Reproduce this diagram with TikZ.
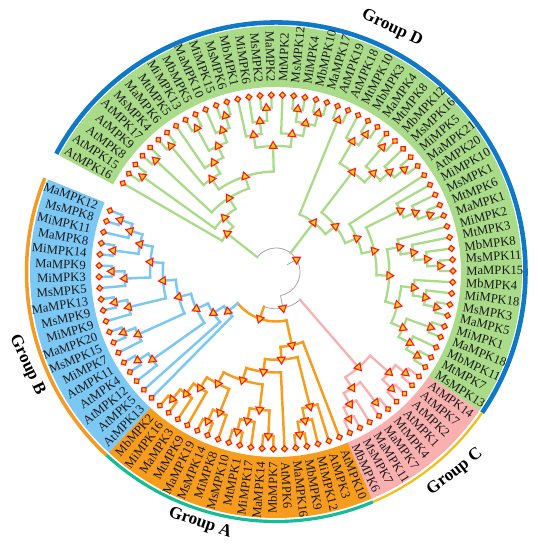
\documentclass[tikz,border=0pt]{standalone}
\usepackage{fontspec}
\setmainfont{Liberation Serif}
\usetikzlibrary{shapes.geometric,backgrounds}

\definecolor{cladeD}{HTML}{A9DB88}
\definecolor{cladeC}{HTML}{FBB0B0}
\definecolor{cladeA}{HTML}{F79C1D}
\definecolor{cladeB}{HTML}{7CC8F5}
\definecolor{cladeR}{HTML}{A6A6A6}
\definecolor{ringD}{HTML}{0E78C9}
\definecolor{ringC}{HTML}{F1BF1C}
\definecolor{ringA}{HTML}{12BD97}
\definecolor{ringB}{HTML}{F59A23}
\definecolor{markfill}{HTML}{FFD21F}
\definecolor{markline}{HTML}{FF1A1A}

\tikzset{
  tipmark/.style={shape=rectangle,draw=markline,fill=markfill,line width=0.65pt,inner sep=0pt,minimum size=0.085cm},
  nodemark/.style={shape=regular polygon,regular polygon sides=3,draw=markline,fill=markfill,line width=0.65pt,inner sep=0pt,minimum size=0.18cm},
  branchD/.style={draw=cladeD,line width=1.3pt,line cap=rect},
  branchC/.style={draw=cladeC,line width=1.3pt,line cap=rect},
  branchA/.style={draw=cladeA,line width=1.4pt,line cap=rect},
  branchB/.style={draw=cladeB,line width=1.4pt,line cap=rect},
  branchR/.style={draw=cladeR,line width=0.45pt},
  leaflabel/.style={font=\fontsize{7.2pt}{8pt}\selectfont,inner sep=0pt,text=black!90},
  grouplabel/.style={font=\fontsize{9.8pt}{11pt}\selectfont\bfseries,inner sep=0pt}
}

\def\allbranches{}

% radial stem of a child, arc in the colour of the parent
\newcommand\drawstem[2]{%
  \edef\childang{\csname ang@#2\endcsname}%
  \edef\parentrad{\csname rad@#1\endcsname}%
  \draw[\csname col@#2\endcsname] (\childang:\parentrad) -- (#2.center);}
\newcommand\drawarc[2]{%
  \edef\childang{\csname ang@#2\endcsname}%
  \edef\parentrad{\csname rad@#1\endcsname}%
  \edef\parentang{\csname ang@#1\endcsname}%
  \draw[\csname col@#1\endcsname] (#1.center) arc[start angle=\parentang,end angle=\childang,radius=\parentrad];}

% name, height above the tips, first child, second child
\newcommand\clade[4]{%
  \pgfmathsetmacro\cladeang{(\csname ang@#3\endcsname+\csname ang@#4\endcsname)/2}%
  \pgfmathsetmacro\claderad{177-12.75*#2}%
  \pgfmathsetmacro\cladetilt{\cladeang-90}%
  \expandafter\xdef\csname ang@#1\endcsname{\cladeang}%
  \expandafter\xdef\csname rad@#1\endcsname{\claderad}%
  \expandafter\xdef\csname col@#1\endcsname{\cladecol}%
  \node[nodemark,regular polygon rotate=\cladetilt] (#1) at (\cladeang:\claderad) {};
  \xdef\allbranches{\unexpanded\expandafter{\allbranches}\noexpand\drawarc{#1}{#3}\noexpand\drawarc{#1}{#4}\noexpand\drawstem{#1}{#3}\noexpand\drawstem{#1}{#4}}}

\begin{document}
\begin{tikzpicture}[x=0.02cm,y=0.02cm]
\useasboundingbox (-276,-278) rectangle (261,272);

\foreach \from/\to/\fillcol/\ringcol/\ringwd in {151.72/-34.3/cladeD/ringD/2.6pt,-34.3/-67.15/cladeC/ringC/1.3pt,-67.15/-132.8/cladeA/ringA/1.8pt,-132.8/-202.1/cladeB/ringB/2pt}{
  \fill[\fillcol] (\from:185) arc[start angle=\from,end angle=\to,radius=185] -- (\to:246) arc[start angle=\to,end angle=\from,radius=246] -- cycle;
  \draw[\ringcol,line width=\ringwd] (\from:249.5) arc[start angle=\from,end angle=\to,radius=249.5];
}

\foreach \lab [count=\i from 0] in {AtMPK16,AtMPK15,AtMPK8,AtMPK9,AtMPK17,MsMPK4,MaMPK6,MtMPK5,MiMPK13,MbMPK5,MaMPK10,MiMPK15,MsMPK6,MbMPK1,MiMPK6,MsMPK2,MaMPK2,MtMPK2,MsMPK12,MiMPK4,MbMPK10,MaMPK17,AtMPK19,AtMPK18,MtMPK10,MbMPK3,MaMPK4,MtMPK8,MbMPK12,MsMPK16,MiMPK5,MaMPK21,AtMPK20,MiMPK10,MsMPK1,MtMPK6,MaMPK1,MiMPK2,MtMPK3,MbMPK8,MsMPK11,MaMPK15,MbMPK4,MiMPK18,MsMPK3,MaMPK5,MiMPK1,MaMPK18,MbMPK11,MtMPK7,MsMPK13,AtMPK14,AtMPK7,AtMPK2,AtMPK1,MtMPK4,MaMPK7,MaMPK11,MsMPK7,MbMPK6,AtMPK10,AtMPK3,MiMPK12,MbMPK9,MaMPK16,AtMPK6,MbMPK7,MaMPK14,MiMPK17,MtMPK1,MsMPK10,MiMPK8,MsMPK14,MaMPK19,MtMPK9,MaMPK3,MiMPK16,MbMPK2,AtMPK13,AtMPK5,AtMPK12,AtMPK4,AtMPK11,MiMPK7,MsMPK15,MaMPK20,MiMPK9,MsMPK9,MaMPK13,MsMPK5,MiMPK3,MaMPK9,MiMPK14,MaMPK8,MiMPK11,MsMPK8,MaMPK12}{
  \pgfmathsetmacro\tipang{149.9-3.648*\i}
  \pgfmathtruncatemacro\rightside{cos(\tipang)>0}
  \expandafter\xdef\csname ang@t\i\endcsname{\tipang}
  \ifnum\i<51 \def\tipcol{branchD}\else\ifnum\i<60 \def\tipcol{branchC}\else\ifnum\i<78 \def\tipcol{branchA}\else\def\tipcol{branchB}\fi\fi\fi
  \expandafter\xdef\csname col@t\i\endcsname{\tipcol}
  \node[tipmark,rotate=\tipang+45] (t\i) at (\tipang:177) {};
  \ifnum\rightside=1
    \node[leaflabel,anchor=west,rotate=\tipang] (l\i) at (\tipang:190) {\lab};
  \else
    \node[leaflabel,anchor=east,rotate=\tipang+180] (l\i) at (\tipang:190) {\lab};
  \fi
}

\def\cladecol{branchD}
\clade{d1}{1}{t1}{t2}
\clade{d2}{1}{t3}{t4}
\clade{d3}{1}{t5}{t6}
\clade{d4}{1}{t8}{t9}
\clade{d5}{1}{t11}{t12}
\clade{d6}{2}{t10}{d5}
\clade{d7}{3}{d4}{d6}
\clade{d8}{4}{t7}{d7}
\clade{d9}{5}{d3}{d8}
\clade{d10}{1}{t15}{t16}
\clade{d11}{2}{t14}{d10}
\clade{d12}{3}{t13}{d11}
\clade{d13}{1}{t18}{t19}
\clade{d14}{1}{t20}{t21}
\clade{d15}{2}{d13}{d14}
\clade{d16}{3}{t17}{d15}
\clade{d17}{4}{d12}{d16}
\clade{d18}{6}{d9}{d17}
\clade{d19}{7}{d2}{d18}
\clade{d20}{8}{d1}{d19}
\clade{d21}{9}{t0}{d20}
\clade{d22}{1}{t22}{t23}
\clade{d23}{1}{t25}{t26}
\clade{d24}{2}{t24}{d23}
\clade{d25}{1}{t27}{t28}
\clade{d26}{1}{t30}{t31}
\clade{d27}{2}{t29}{d26}
\clade{d28}{3}{d25}{d27}
\clade{d29}{4}{d24}{d28}
\clade{d30}{1}{t35}{t36}
\clade{d31}{2}{t34}{d30}
\clade{d32}{3}{t33}{d31}
\clade{d33}{1}{t40}{t41}
\clade{d34}{2}{t39}{d33}
\clade{d35}{3}{t38}{d34}
\clade{d36}{4}{t37}{d35}
\clade{d37}{1}{t44}{t45}
\clade{d38}{2}{t43}{d37}
\clade{d39}{3}{t42}{d38}
\clade{d40}{1}{t46}{t47}
\clade{d41}{1}{t49}{t50}
\clade{d42}{2}{t48}{d41}
\clade{d43}{3}{d40}{d42}
\clade{d44}{4}{d39}{d43}
\clade{d45}{5}{d36}{d44}
\clade{d46}{6}{d32}{d45}
\clade{d47}{7}{t32}{d46}
\clade{d48}{8}{d29}{d47}
\clade{d49}{9}{d22}{d48}

\def\cladecol{branchC}
\clade{c1}{1}{t51}{t52}
\clade{c2}{1}{t53}{t54}
\clade{c3}{2}{c1}{c2}
\clade{c4}{1}{t55}{t56}
\clade{c5}{1}{t58}{t59}
\clade{c6}{2}{t57}{c5}
\clade{c7}{3}{c4}{c6}
\clade{c8}{4}{c3}{c7}

\def\cladecol{branchA}
\clade{a1}{1}{t63}{t64}
\clade{a2}{2}{t62}{a1}
\clade{a3}{3}{t61}{a2}
\clade{a4}{1}{t66}{t67}
\clade{a5}{1}{t69}{t70}
\clade{a6}{2}{t68}{a5}
\clade{a7}{3}{a4}{a6}
\clade{a8}{1}{t72}{t73}
\clade{a9}{2}{t71}{a8}
\clade{a10}{1}{t76}{t77}
\clade{a11}{2}{t75}{a10}
\clade{a12}{3}{t74}{a11}
\clade{a13}{4}{a9}{a12}
\clade{a14}{5}{a7}{a13}
\clade{a15}{6}{t65}{a14}
\clade{a16}{7}{a3}{a15}
\clade{a17}{8}{t60}{a16}

\def\cladecol{branchB}
\clade{b1}{1}{t95}{t96}
\clade{b2}{2}{t94}{b1}
\clade{b3}{1}{t92}{t93}
\clade{b4}{3}{b3}{b2}
\clade{b5}{1}{t90}{t91}
\clade{b6}{2}{t89}{b5}
\clade{b7}{4}{b6}{b4}
\clade{b8}{1}{t87}{t88}
\clade{b9}{2}{t86}{b8}
\clade{b10}{5}{b9}{b7}
\clade{b11}{1}{t84}{t85}
\clade{b12}{2}{t83}{b11}
\clade{b13}{6}{b12}{b10}
\clade{b14}{1}{t81}{t82}
\clade{b15}{2}{t80}{b14}
\clade{b16}{7}{b15}{b13}
\clade{b17}{8}{t79}{b16}
\clade{b18}{9}{t78}{b17}

\def\cladecol{branchA}
\clade{z1}{10}{a17}{b18}

\def\cladecol{branchR}
\clade{z2}{11}{c8}{z1}
\clade{z3}{12}{z2}{d21}

\begin{scope}[on background layer]
\allbranches
\drawstem{z3}{d49}
\coordinate (rootend) at (33:13);
\draw[branchR] (z3.center) -- (rootend);
\end{scope}

\node[grouplabel,rotate=-25] (groupD) at (116,244) {Group D};
\node[grouplabel,rotate=38] (groupC) at (179,-200) {Group C};
\node[grouplabel,rotate=-19] (groupA) at (-76,-251) {Group A};
\node[grouplabel,rotate=-65] (groupB) at (-249,-93) {Group B};
\end{tikzpicture}
\end{document}
